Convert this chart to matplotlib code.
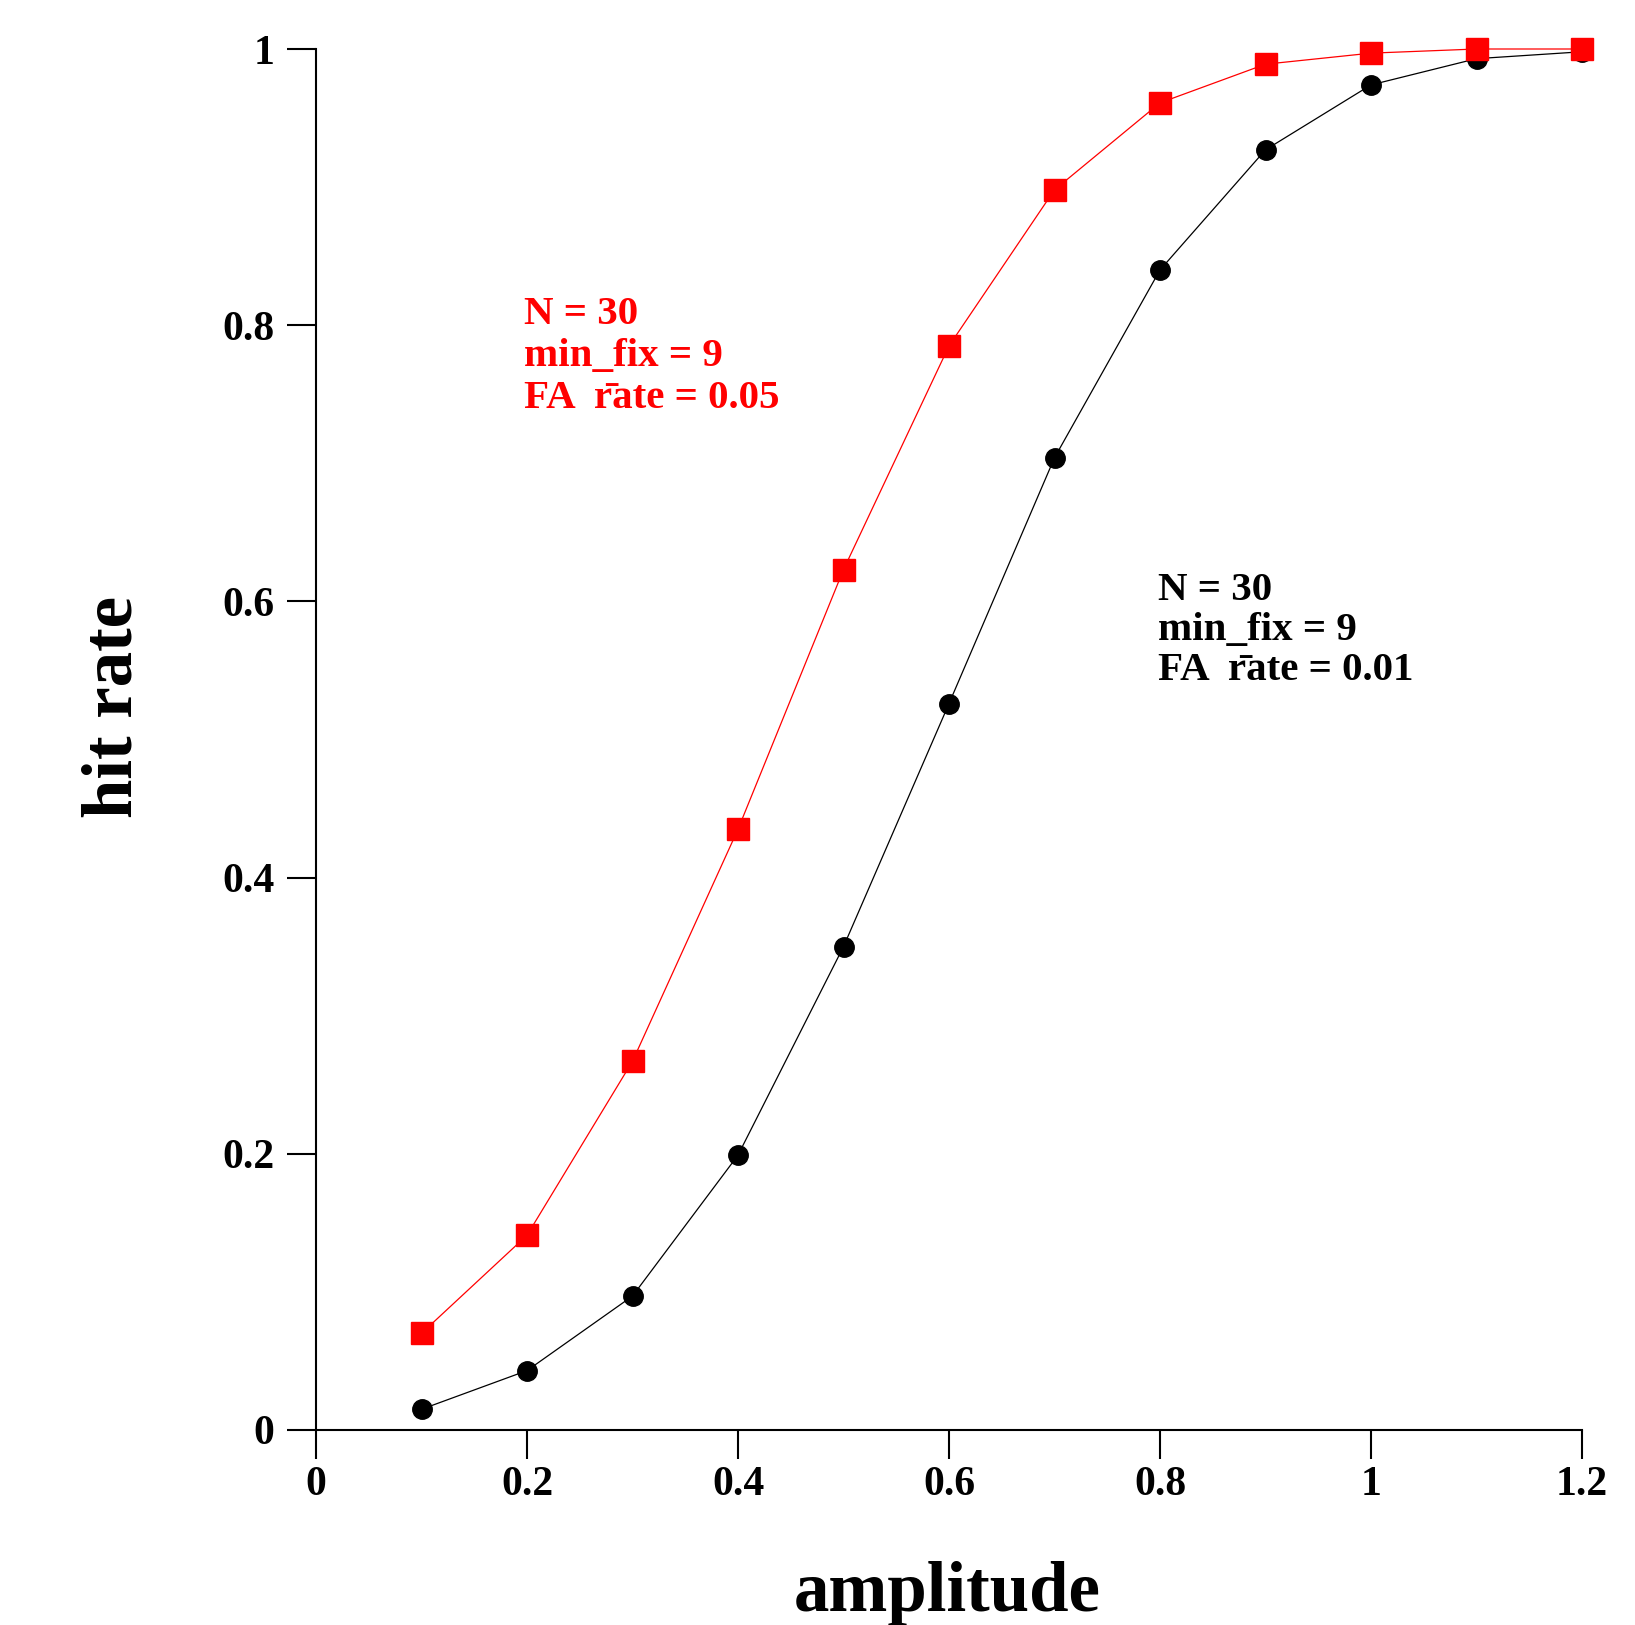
import matplotlib
matplotlib.use("Agg")
import matplotlib.pyplot as plt

# Hit rate vs. signal amplitude for two false-alarm rates
amplitude = [0.1, 0.2, 0.3, 0.4, 0.5, 0.6, 0.7, 0.8, 0.9, 1.0, 1.1, 1.2]
hit_fa005 = [0.070, 0.141, 0.267, 0.435, 0.623, 0.785, 0.898, 0.961, 0.989, 0.997, 1.0, 1.0]
hit_fa001 = [0.015, 0.043, 0.097, 0.199, 0.350, 0.526, 0.704, 0.840, 0.927, 0.974, 0.993, 0.998]

x_ticks = [0, 0.2, 0.4, 0.6, 0.8, 1.0, 1.2]
x_tick_labels = ["0", "0.2", "0.4", "0.6", "0.8", "1", "1.2"]
y_ticks = [0, 0.2, 0.4, 0.6, 0.8, 1.0]
y_tick_labels = ["0", "0.2", "0.4", "0.6", "0.8", "1"]

label_fa005 = ["N = 30", "min_fix = 9", "FA  r\u0304ate = 0.05"]
label_fa001 = ["N = 30", "min_fix = 9", "FA  r\u0304ate = 0.01"]

serif = ["Liberation Serif", "DejaVu Serif"]
plt.rcParams["font.family"] = serif
plt.rcParams["font.weight"] = "bold"

W, H = 1635, 1625
fig = plt.figure(figsize=(W / 100, H / 100), dpi=100)
ax = fig.add_axes([316 / W, 1 - 1430 / H, (1582 - 316) / W, (1430 - 49) / H])

ax.plot(amplitude, hit_fa001, color="black", lw=0.9, marker="o", ms=14,
        mec="black", mfc="black", clip_on=False, zorder=3)
ax.plot(amplitude, hit_fa005, color="red", lw=0.9, marker="s", ms=16,
        mec="red", mfc="red", clip_on=False, zorder=4)

ax.set_xlim(0, 1.2)
ax.set_ylim(0, 1)
ax.set_xticks(x_ticks)
ax.set_xticklabels(x_tick_labels)
ax.set_yticks(y_ticks)
ax.set_yticklabels(y_tick_labels)

for side in ("top", "right"):
    ax.spines[side].set_visible(False)
for side in ("left", "bottom"):
    ax.spines[side].set_linewidth(1.5)

ax.tick_params(axis="both", direction="out", length=21, width=1.5,
               labelsize=30)
ax.tick_params(axis="y", pad=9)
ax.tick_params(axis="x", pad=5)
for lbl in ax.get_xticklabels() + ax.get_yticklabels():
    lbl.set_fontweight("bold")

# Parameter annotations, one text per line
def block(lines, x0, y0, color, spacing):
    for i, line in enumerate(lines):
        fig.text(x0 / W, 1 - (y0 + i * spacing) / H, line, color=color,
                 fontsize=29.5, fontweight="bold", ha="left", va="baseline")

block(label_fa005, 524, 324, "red", 42)
block(label_fa001, 1158, 600, "black", 40)

fig.text(947 / W, 1 - 1611 / H, "amplitude", fontsize=51, fontweight="bold",
         ha="center", va="baseline")
fig.text(114 / W, 1 - 707 / H, "hit rate", fontsize=51, fontweight="bold",
         ha="center", va="center", rotation=90)

fig.savefig("out.png", dpi=100, facecolor="white")
